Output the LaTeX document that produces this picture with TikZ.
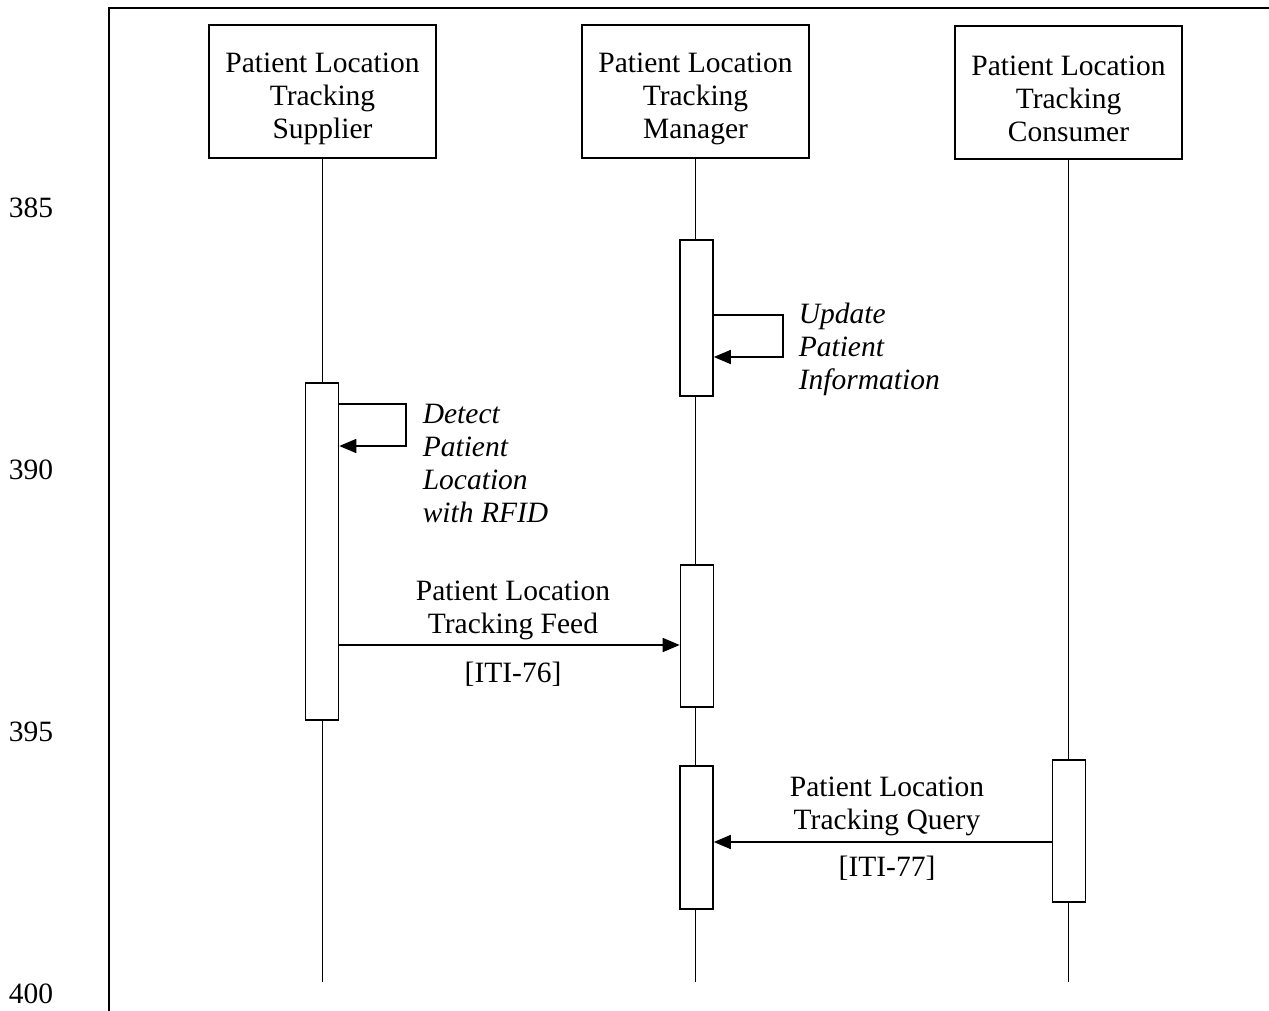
\documentclass[tikz,border=0pt]{standalone}
\usepackage{fontspec}
\setmainfont{Liberation Serif}
\usetikzlibrary{positioning, arrows.meta}

\begin{document}
\begin{tikzpicture}[x=1pt, y=-1pt, line width=1.6pt,
  font=\fontsize{29.5}{33}\selectfont,
  actor/.style={draw, minimum width=227pt, minimum height=133pt, inner sep=0pt},
  bar/.style={draw, fill=white, minimum width=33pt, inner sep=0pt},
  msg/.style={-{Triangle[length=17pt, width=14pt]}},
  lbl/.style={align=center, inner sep=0pt},
  note/.style={align=left, font=\fontsize{29.5}{33}\selectfont\itshape, inner sep=0pt, anchor=west},
  lineno/.style={inner sep=0pt}]
\useasboundingbox (0, 0) rectangle (1269, 1011);
% frame and line numbers
\coordinate (fbl) at (109, 1011);
\coordinate (ftl) at (109, 8);
\coordinate (ftr) at (1269, 8);
\draw (fbl) -- (ftl) -- (ftr);
\node [lineno] (n385) at (31, 208) {385};
\node [lineno] (n390) at (31, 470) {390};
\node [lineno] (n395) at (31, 732) {395};
\node [lineno] (n400) at (31, 994) {400};
% actors
\node [actor] (sup) at (322.5, 91.5) {};
\node [actor] (man) at (695.5, 91.5) {};
\node [actor] (con) at (1068.5, 92.5) {};
\node [lbl] (suptxt) at (322.5, 98.5) {Patient Location\\Tracking\\Supplier};
\node [lbl] (mantxt) at (695.5, 98.5) {Patient Location\\Tracking\\Manager};
\node [lbl] (contxt) at (1068.5, 99) {Patient Location\\Tracking\\Consumer};
\coordinate (supend) at (322.5, 982);
\coordinate (manend) at (695.5, 982);
\coordinate (conend) at (1068.5, 982);
\draw (sup) -- (supend);
\draw (man) -- (manend);
\draw (con) -- (conend);
% activation bars
\node [bar, minimum height=156pt] (m1) at (696.5, 318) {};
\node [bar, minimum height=337pt] (s1) at (322, 551.5) {};
\node [bar, minimum height=142pt] (m2) at (697, 636) {};
\node [bar, minimum height=143pt] (m3) at (696.5, 837.5) {};
\node [bar, minimum height=142pt] (c1) at (1069, 831) {};
% update patient information
\coordinate (upd1) at (783, 315);
\coordinate (upd2) at (783, 357);
\draw [msg] (m1.east |- upd1) -- (upd1) -- (upd2) -- (m1.east |- upd2);
\node [note] (updlbl) at (798, 349) {Update\\Patient\\Information};
% detect patient location
\coordinate (det1) at (406, 404);
\coordinate (det2) at (406, 446);
\draw [msg] (s1.east |- det1) -- (det1) -- (det2) -- (s1.east |- det2);
\node [note] (detlbl) at (422, 463) {Detect\\Patient\\Location\\with RFID};
% ITI-76
\coordinate (feed) at (513, 645);
\draw [msg] (s1.east |- feed) -- (m2.west |- feed);
\node [lbl] (feedlbl) at (513, 610) {Patient Location\\Tracking Feed};
\node [lbl] (iti76) at (513, 674) {[ITI-76]};
% ITI-77
\coordinate (query) at (887, 842);
\draw [msg] (c1.west |- query) -- (m3.east |- query);
\node [lbl] (querylbl) at (887, 806) {Patient Location\\Tracking Query};
\node [lbl] (iti77) at (887, 868) {[ITI-77]};
\end{tikzpicture}
\end{document}
